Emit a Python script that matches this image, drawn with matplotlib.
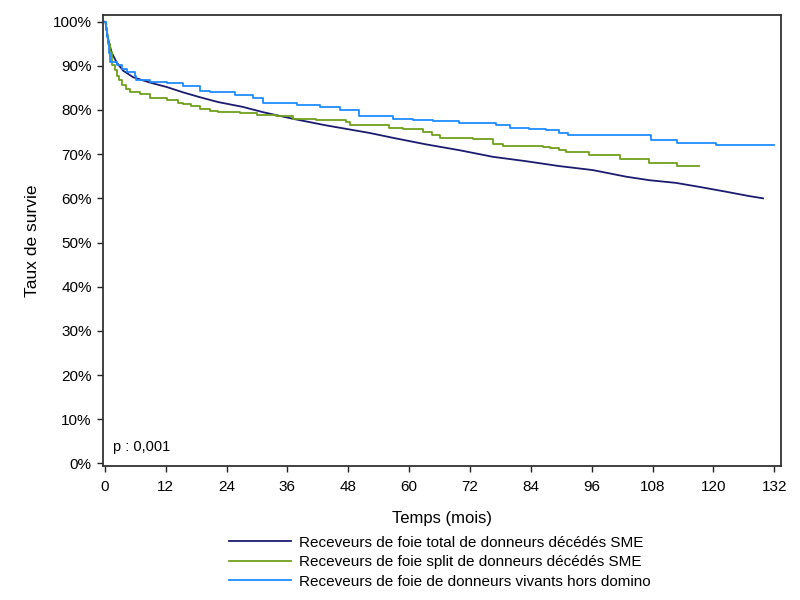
import matplotlib
matplotlib.use("Agg")
import matplotlib.pyplot as plt

plt.rcParams['font.family'] = ['Liberation Sans', 'DejaVu Sans']

# survival curves (months, %)
total_t = [0, 0.1, 0.65, 1.3, 2.3, 3.6, 5.6, 8.9, 12.2, 15.4, 18.7, 22.3, 27.2, 31.2,
           37.1, 43.7, 50.2, 52.2, 56.8, 63.4, 69.9, 76.5, 83.1, 89.6, 96.2, 102.8,
           107.4, 112.6, 117.2, 122.5, 127.1, 129.8]
total_s = [100, 99.9, 96.1, 93.1, 90.8, 88.9, 87.4, 86.2, 85.2, 84.0, 82.9, 81.8, 80.7, 79.5,
           78.0, 76.5, 75.2, 74.8, 73.7, 72.2, 70.9, 69.4, 68.4, 67.3, 66.4, 64.9,
           64.1, 63.5, 62.6, 61.5, 60.5, 60.0]

split_t = [0, 0.2, 0.45, 0.7, 1.0, 1.5, 1.9, 2.3, 2.8, 3.3, 4.1, 4.9, 6.9, 8.9, 12.2,
           14.5, 15.4, 17.0, 18.7, 20.7, 22.3, 26.6, 30.0, 33.8, 37.1, 41.7, 47.6, 48.3,
           56.1, 58.8, 62.7, 64.5, 66.0, 72.6, 76.5, 78.5, 86.4, 87.7, 89.6, 91.0, 95.5,
           101.5, 107.4, 112.9, 117.1]
split_s = [100, 98.5, 96.8, 95.0, 93.1, 90.1, 89.0, 87.8, 86.7, 85.6, 84.8, 84.0, 83.7, 82.7, 82.2,
           81.6, 81.4, 80.8, 80.3, 79.8, 79.5, 79.3, 78.9, 78.6, 78.0, 77.7, 77.3, 76.7,
           76.0, 75.6, 75.0, 74.3, 73.7, 73.5, 72.2, 71.8, 71.6, 71.3, 71.0, 70.5, 69.8,
           68.8, 67.9, 67.3, 67.3]

living_t = [0, 0.2, 0.45, 0.65, 0.9, 1.1, 2.3, 3.3, 4.3, 5.9, 6.1, 8.9, 12.2, 15.4, 18.7, 20.7, 25.6,
            29.2, 31.2, 37.8, 42.4, 46.3, 50.2, 56.8, 60.7, 64.7, 69.9, 77.2, 79.8, 83.7,
            87.0, 89.6, 91.3, 107.7, 110.7, 112.9, 120.5, 132]
living_s = [100, 98.2, 96.5, 95.3, 93.0, 90.8, 90.1, 89.3, 88.6, 87.8, 86.7, 86.3, 86.1, 85.4, 84.4, 84.0, 83.3,
            82.6, 81.6, 81.2, 80.7, 80.1, 78.7, 78.0, 77.7, 77.4, 77.0, 76.7, 76.0, 75.8,
            75.4, 74.8, 74.4, 73.3, 73.1, 72.6, 72.0, 72.0]

labels = ["Receveurs de foie total de donneurs décédés SME",
          "Receveurs de foie split de donneurs décédés SME",
          "Receveurs de foie de donneurs vivants hors domino"]
colors = ["#1b1b6f", "#6fa01e", "#1f8bff"]

xticks = list(range(0, 133, 12))
yticks = list(range(0, 101, 10))

fig = plt.figure(figsize=(8, 6), dpi=100)
ax = fig.add_axes([0.129, 0.224, 0.847, 0.751])

ax.plot(total_t, total_s, color=colors[0], lw=1.3, label=labels[0])
ax.plot(split_t, split_s, color=colors[1], lw=1.3, drawstyle='steps-post', label=labels[1])
ax.plot(living_t, living_s, color=colors[2], lw=1.3, drawstyle='steps-post', label=labels[2])

ax.set_xlim(-0.33, 133.3)
ax.set_ylim(-0.5, 101.5)
ax.set_xticks(xticks)
ax.set_yticks(yticks)
ax.set_yticklabels([f"{v}%" for v in yticks])
ax.tick_params(axis='both', direction='out', length=4.3, width=1, labelsize=11, color='#222222')
ax.tick_params(axis='x', pad=6)
ax.tick_params(axis='y', pad=4)
for side in ax.spines.values():
    side.set_color('#333333')
    side.set_linewidth(1.3)

ax.set_xlabel("Temps (mois)", fontsize=12)
ax.set_ylabel("Taux de survie", fontsize=12.5)
ax.xaxis.set_label_coords(0.5, -0.1)
ax.yaxis.set_label_coords(-0.093, 0.5)

ax.text(0.014, 0.026, "p : 0,001", transform=ax.transAxes, fontsize=10.5, va='bottom')

fig.legend(loc='upper left', bbox_to_anchor=(0.286, 0.107), frameon=False,
           fontsize=11, handlelength=4.1, handletextpad=0.5, labelspacing=0.36,
           borderpad=0, borderaxespad=0)

fig.savefig("out.png", dpi=100)
